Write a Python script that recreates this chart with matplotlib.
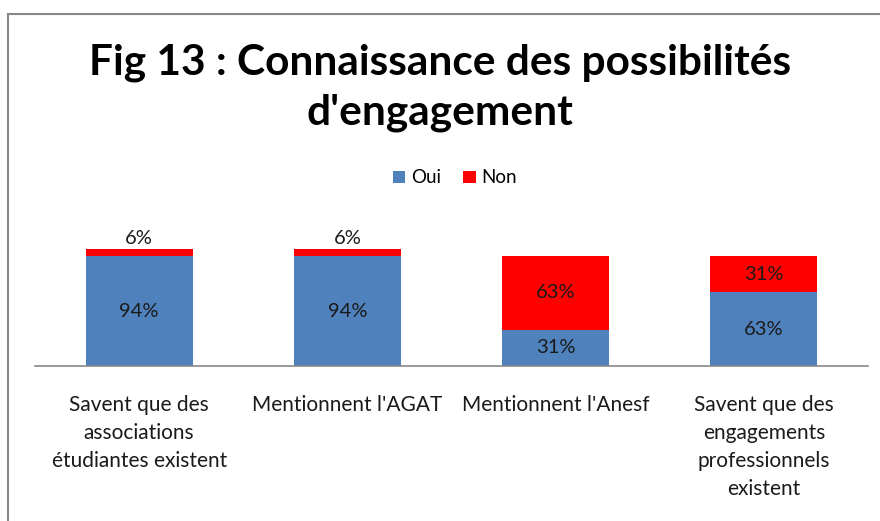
import matplotlib.pyplot as plt
from matplotlib.patches import Rectangle

# Données
categories = ["Savent que des\nassociations\nétudiantes existent",
              "Mentionnent l'AGAT",
              "Mentionnent l'Anesf",
              "Savent que des\nengagements\nprofessionnels\nexistent"]
oui = [0.94, 0.94, 0.31, 0.63]
non = [0.06, 0.06, 0.63, 0.31]
labels_oui = ["94%", "94%", "31%", "63%"]
labels_non = ["6%", "6%", "63%", "31%"]

bleu = '#4F81BD'
rouge = '#FF0000'
police = 'Lato'

W, H = 880, 521
fig = plt.figure(figsize=(W / 100, H / 100), dpi=100)

# Cadre gris autour du graphique
fig.patches.append(Rectangle((8 / W, -0.1), 1.2, 1 - 14 / H + 0.1,
                             transform=fig.transFigure, fill=False,
                             edgecolor='#878787', linewidth=1.5))

# Zone de tracé : ligne de base à y=366, 100% à y=249
base, haut = 366, 249
ymax = 1.2
hauteur = (base - haut) * ymax
ax = fig.add_axes([35 / W, 1 - base / H, (868 - 35) / W, hauteur / H])

x = range(len(categories))
ax.bar(x, oui, width=0.515, color=bleu, label='Oui')
ax.bar(x, non, width=0.515, bottom=oui, color=rouge, label='Non')

for i in x:
    ax.text(i, oui[i] / 2, labels_oui[i], ha='center', va='center',
            fontsize=14.5, family=police, color='#1a1a1a')
    if non[i] < 0.1:
        ax.text(i, oui[i] + non[i] + 0.09, labels_non[i], ha='center',
                va='center', fontsize=14.5, family=police, color='#1a1a1a')
    else:
        ax.text(i, oui[i] + non[i] / 2, labels_non[i], ha='center',
                va='center', fontsize=14.5, family=police, color='#1a1a1a')

ax.set_xlim(-0.5, 3.5)
ax.set_ylim(0, ymax)
for s in ['top', 'right', 'left']:
    ax.spines[s].set_visible(False)
ax.spines['bottom'].set_color('#888888')
ax.spines['bottom'].set_linewidth(1.2)
ax.set_yticks([])
ax.set_xticks(list(x))
ax.set_xticklabels(categories, family=police, fontsize=15, color='#1a1a1a',
                   linespacing=1.5, va='top')
ax.tick_params(axis='x', length=0, pad=21)

fig.text(0.5, 1 - 63 / H, "Fig 13 : Connaissance des possibilités",
         ha='center', va='center', fontsize=30.5, fontweight='bold', family=police)
fig.text(0.5, 1 - 113 / H, "d'engagement",
         ha='center', va='center', fontsize=30.5, fontweight='bold', family=police)

fig.legend(loc='center', bbox_to_anchor=(455 / W, 1 - 178 / H), ncol=2,
           frameon=False, handlelength=0.65, handleheight=0.65,
           handletextpad=0.3, columnspacing=1.2,
           prop={'family': police, 'size': 13.5})

fig.savefig('out.png', dpi=100)
